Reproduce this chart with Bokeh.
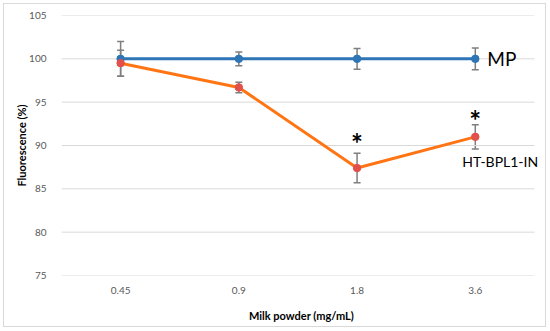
from bokeh.plotting import figure
from bokeh.models import (ColumnDataSource, Whisker, Range1d, TeeHead, Label,
                          FixedTicker, InlineStyleSheet)
from bokeh.core.properties import value
from bokeh.embed import file_html
from bokeh.resources import INLINE

categories = ["0.45", "0.9", "1.8", "3.6"]
mp_values = [100, 100, 100, 100]
mp_errors = [2.0, 0.8, 1.2, 1.25]
ht_values = [99.5, 96.7, 87.4, 91.0]
ht_errors = [1.5, 0.6, 1.7, 1.4]
significant = ["1.8", "3.6"]
star_y = [91.0, 93.6]
y_ticks = [75, 80, 85, 90, 95, 100, 105]

FONT = "Lato"

# each category occupies one unit band; marks sit at the band centres
x_pos = [i + 0.5 for i in range(len(categories))]
n_cat = len(categories)

p = figure(x_range=Range1d(0, n_cat + 0.06), y_range=Range1d(75, 105), width=550, height=331,
           output_backend="svg", toolbar_location=None,
           min_border_left=61, min_border_right=9, min_border_top=15, min_border_bottom=56)
p.stylesheets = [InlineStyleSheet(css="""
:host { position: relative; }
:host::after { content: ""; position: absolute; left: 3px; top: 3px; width: 541px; height: 322px;
  border: 1px solid #d9d9d9; pointer-events: none; z-index: 100; }
""")]
p.outline_line_color = None
p.xgrid.grid_line_color = None
p.ygrid.grid_line_color = None

# horizontal gridlines spanning the category bands only
p.segment(x0=[0] * len(y_ticks), x1=[n_cat] * len(y_ticks), y0=y_ticks, y1=y_ticks,
          line_color="#d9d9d9", line_width=1)

p.yaxis.ticker = FixedTicker(ticks=y_ticks)
p.xaxis.ticker = FixedTicker(ticks=x_pos)
p.xaxis.major_label_overrides = {xp: c for xp, c in zip(x_pos, categories)}

for ax in (p.xaxis[0], p.yaxis[0]):
    ax.axis_line_color = None
    ax.major_tick_line_color = None
    ax.minor_tick_line_color = None
    ax.major_label_text_font = FONT
    ax.major_label_text_font_size = "10px"
    ax.major_label_text_color = "#595959"
    ax.axis_label_text_font = FONT
    ax.axis_label_text_font_size = "11px"
    ax.axis_label_text_font_style = "bold"
    ax.axis_label_text_color = "#000000"

p.xaxis.axis_label = "Milk powder (mg/mL)"
p.yaxis.axis_label = "Fluorescence (%)"
p.xaxis.major_label_standoff = 5
p.xaxis.axis_label_standoff = 12
p.yaxis.major_label_standoff = 9
p.yaxis.axis_label_standoff = -2

mp_src = ColumnDataSource(dict(x=x_pos, y=mp_values,
                               lo=[v - e for v, e in zip(mp_values, mp_errors)],
                               hi=[v + e for v, e in zip(mp_values, mp_errors)]))
ht_src = ColumnDataSource(dict(x=x_pos, y=ht_values,
                               lo=[v - e for v, e in zip(ht_values, ht_errors)],
                               hi=[v + e for v, e in zip(ht_values, ht_errors)]))

p.line("x", "y", source=mp_src, line_color="#2e75b6", line_width=3)
p.line("x", "y", source=ht_src, line_color="#ff7514", line_width=3)

for src in (mp_src, ht_src):
    w = Whisker(base="x", upper="hi", lower="lo", source=src,
                line_color="#7f7f7f", line_width=1.5,
                upper_head=TeeHead(size=7, line_color="#7f7f7f", line_width=1.5),
                lower_head=TeeHead(size=7, line_color="#7f7f7f", line_width=1.5))
    p.add_layout(w)

p.scatter("x", "y", source=mp_src, size=7.5, fill_color="#2e75b6", line_color="#2e75b6")
p.scatter("x", "y", source=ht_src, size=7.5, fill_color="#e2504c", line_color="#e2504c")

star_x = [x_pos[categories.index(c)] for c in significant]
p.text(x=star_x, y=star_y, text=["*", "*"],
       text_font=value(FONT), text_font_size="28px", text_font_style="bold",
       text_align="center", text_baseline="middle", y_offset=6, text_color="#000000")

p.add_layout(Label(x=x_pos[-1], y=mp_values[-1], text="MP", x_offset=12,
                   text_font=FONT, text_font_size="19px", text_align="left",
                   text_baseline="middle", text_color="#000000"))
p.add_layout(Label(x=x_pos[-1], y=ht_values[-1], text="HT-BPL1-IN", x_offset=-13, y_offset=-25,
                   text_font=FONT, text_font_size="14px", text_align="left",
                   text_baseline="middle", text_color="#000000"))

open("out.html", "w").write(file_html(p, INLINE))
